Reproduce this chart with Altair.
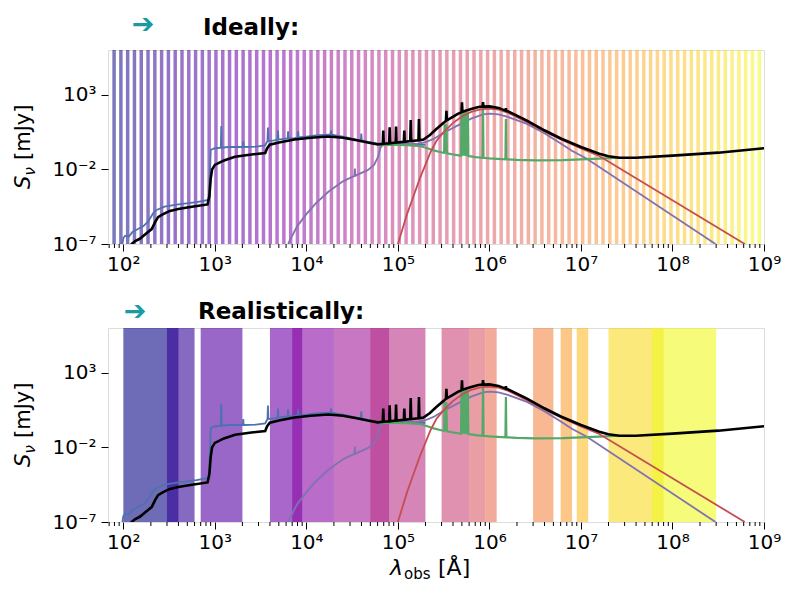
import altair as alt
import pandas as pd

# ---------------- data (log10 wavelength [A], log10 flux [mJy]) ----------------
BLACK = [
    (2.06, -7.6), (2.09, -7.0), (2.13, -6.8), (2.18, -6.65), (2.24, -6.35), (2.31, -6.0), (2.35, -5.5),
    (2.38, -5.2), (2.42, -5.05), (2.50, -4.8), (2.60, -4.65), (2.75, -4.5), (2.92, -4.35), (2.94, -3.8),
    (2.955, -2.6), (2.97, -2.0), (3.00, -1.7), (3.10, -1.4), (3.22, -1.15), (3.40, -1.0), (3.55, -0.9),
    (3.57, -0.6), (3.60, -0.35), (3.70, -0.2), (3.87, 0.0), (4.05, 0.12), (4.24, 0.2), (4.40, 0.12),
    (4.55, -0.05), (4.67, -0.2), (4.78, -0.32),
    (4.835, -0.28), (4.84, 0.6), (4.845, -0.28),
    (4.905, -0.25), (4.91, 0.82), (4.915, -0.25),
    (4.975, -0.2), (4.98, 0.87), (4.985, -0.2),
    (5.065, -0.15), (5.07, 0.6), (5.075, -0.15),
    (5.135, -0.1), (5.14, 1.31), (5.145, -0.1),
    (5.225, -0.05), (5.23, 1.38), (5.235, -0.05),
    (5.28, 0.0), (5.35, 0.3), (5.42, 0.7), (5.50, 1.12),
    (5.525, 1.27), (5.53, 1.93), (5.535, 1.29),
    (5.60, 1.52), (5.65, 1.7),
    (5.695, 1.84), (5.70, 2.49), (5.705, 1.86),
    (5.80, 2.05), (5.88, 2.18),
    (5.925, 2.21), (5.93, 2.5), (5.935, 2.21),
    (6.00, 2.22), (6.10, 2.12),
    (6.175, 1.94), (6.18, 2.1), (6.185, 1.92),
    (6.20, 1.9), (6.30, 1.6), (6.41, 1.27), (6.60, 0.62), (6.78, 0.07), (7.00, -0.5), (7.20, -0.95),
    (7.30, -1.12), (7.42, -1.22), (7.60, -1.22), (8.00, -1.08), (8.50, -0.88), (9.00, -0.58),
]

BLUE = [
    (1.99, -7.0), (2.00, -6.6), (2.02, -6.44), (2.06, -6.5), (2.10, -6.2), (2.16, -6.0), (2.22, -5.8),
    (2.27, -5.5), (2.33, -4.9), (2.37, -4.7), (2.45, -4.5), (2.60, -4.35), (2.80, -4.2), (2.93, -4.05),
    (2.945, -2.5), (2.955, -0.7), (2.99, -0.6),
    (3.065, -0.55), (3.07, 0.9), (3.075, -0.55),
    (3.15, -0.5), (3.305, -0.5), (3.31, -0.1), (3.315, -0.5), (3.45, -0.48), (3.55, -0.4),
    (3.57, -0.15), (3.575, -0.12), (3.58, 0.8), (3.585, -0.1), (3.65, -0.05),
    (3.685, 0.0), (3.69, 0.6), (3.695, 0.0), (3.75, 0.05),
    (3.795, 0.07), (3.80, 0.55), (3.805, 0.08), (3.87, 0.1),
    (3.905, 0.15), (3.91, 0.55), (3.915, 0.15), (4.00, 0.2), (4.10, 0.27), (4.24, 0.33),
    (4.265, 0.33), (4.27, 0.6), (4.275, 0.32), (4.40, 0.2), (4.55, 0.0),
    (4.595, -0.05), (4.60, 0.4), (4.605, -0.06), (4.65, -0.12), (4.80, -0.3), (5.00, -0.3), (5.30, -0.35),
]

PURPLE = [
    (3.80, -7.0), (3.84, -6.5), (3.90, -5.8), (4.00, -5.0), (4.10, -4.3), (4.24, -3.5), (4.40, -2.8),
    (4.50, -2.5), (4.525, -2.45), (4.53, -1.95), (4.535, -2.43), (4.56, -2.35), (4.67, -2.05), (4.74, -1.7),
    (4.78, -1.2), (4.81, -0.55), (4.83, -0.38), (5.00, -0.33), (5.20, -0.3), (5.30, -0.18), (5.39, 0.04),
    (5.50, 0.45), (5.65, 0.93), (5.80, 1.4), (5.93, 1.68), (6.00, 1.73), (6.10, 1.68), (6.20, 1.52),
    (6.41, 1.05), (6.60, 0.42), (6.78, -0.27), (6.90, -0.75), (7.06, -1.27), (8.47, -7.0),
]

RED = [
    (5.00, -7.0), (5.05, -6.0), (5.10, -5.0), (5.17, -3.8), (5.24, -2.6), (5.30, -1.7), (5.36, -0.8),
    (5.42, -0.1), (5.50, 0.5), (5.60, 1.1), (5.70, 1.55), (5.80, 1.85), (5.90, 2.02), (6.00, 2.08),
    (6.10, 2.0), (6.20, 1.8), (6.40, 1.2), (6.60, 0.55), (6.80, -0.05), (7.00, -0.6), (7.20, -1.1),
    (8.79, -7.0),
]

GREEN = [
    (4.80, -0.4), (4.90, -0.35), (5.10, -0.37), (5.25, -0.45), (5.33, -0.6), (5.39, -0.73), (5.45, -0.82),
    (5.505, -0.9), (5.51, 1.0), (5.515, -0.9), (5.52, 1.04), (5.525, -0.9), (5.53, 1.0), (5.535, -0.92),
    (5.65, -1.05), (5.69, -1.08),
    (5.695, 1.85), (5.70, -1.08), (5.705, 1.95), (5.71, -1.08), (5.715, 1.7), (5.72, -1.09),
    (5.725, 1.9), (5.73, -1.09), (5.735, 1.95), (5.74, -1.1), (5.745, 1.75), (5.75, -1.1),
    (5.755, 1.85), (5.76, -1.1), (5.765, 1.7), (5.77, -1.11),
    (5.85, -1.18), (5.925, -1.22), (5.93, 2.16), (5.935, -1.22), (6.00, -1.26),
    (6.175, -1.32), (6.18, 1.38), (6.185, -1.32), (6.30, -1.36), (6.50, -1.4), (6.80, -1.38),
    (7.00, -1.33), (7.20, -1.28), (7.42, -1.22),
]

# "ideal" filter grid: regularly spaced narrow bands (log10 start, step, width, count)
IDEAL_START = 1.88
IDEAL_STEP = 0.0742
IDEAL_WIDTH = 0.038
IDEAL_COUNT = 96

# "realistic" filters (wavelength ranges in Angstrom)
REAL_LO = [100, 300, 700, 4000, 7000, 2e4, 5e4, 3e5, 6e5, 9e5, 3e6, 6e6, 9e6, 2e7, 6e7]
REAL_HI = [400, 600, 2000, 9000, 2e4, 8e4, 2e5, 6e5, 9e5, 1.2e6, 5e6, 8e6, 1.2e7, 8e7, 3e8]

X_TICKS = [1e2, 1e3, 1e4, 1e5, 1e6, 1e7, 1e8, 1e9]
Y_TICKS = [1e-7, 1e-2, 1e3]
X_DOMAIN = [68, 1e9]
Y_DOMAIN = [1e-7, 1e6]

W, H = 656, 194
FONT = "DejaVu Sans"


def line_df(pairs):
    return pd.DataFrame({
        "lam": [10 ** a for a, _ in pairs],
        "S": [10 ** b for _, b in pairs],
        "o": list(range(len(pairs))),
    })


ideal_df = pd.DataFrame({
    "x1": [10 ** (IDEAL_START + i * IDEAL_STEP) for i in range(IDEAL_COUNT)],
    "x2": [10 ** (IDEAL_START + i * IDEAL_STEP + IDEAL_WIDTH) for i in range(IDEAL_COUNT)],
    "c": [i / (IDEAL_COUNT - 1) for i in range(IDEAL_COUNT)],
})
real_df = pd.DataFrame({
    "x1": REAL_LO,
    "x2": REAL_HI,
    "c": [i / (len(REAL_LO) - 1) for i in range(len(REAL_LO))],
})

minor = []
for d in range(1, 9):
    for k in range(2, 10):
        v = k * 10 ** d
        if X_DOMAIN[0] <= v <= X_DOMAIN[1]:
            minor.append(v)
minor_df = pd.DataFrame({"m": minor})

SUP = {"-": "⁻", "0": "⁰", "1": "¹", "2": "²", "3": "³", "4": "⁴",
       "5": "⁵", "6": "⁶", "7": "⁷", "8": "⁸", "9": "⁹"}


def label_expr(exps):
    e = "round(log(datum.value)/LN10)"
    parts = []
    for k in exps:
        s = "10" + "".join(SUP[ch] for ch in str(k))
        parts.append(f"{e} == {k} ? '{s}'")
    return " : ".join(parts) + " : ''"


xscale = alt.Scale(type="log", domain=X_DOMAIN, nice=False)
yscale = alt.Scale(type="log", domain=Y_DOMAIN, nice=False)

xaxis = alt.Axis(values=X_TICKS, labelExpr=label_expr(range(2, 10)), tickSize=7, tickWidth=1,
                 tickColor="black", labelColor="black", labelFontSize=20, labelFont=FONT,
                 domain=False, grid=False, labelPadding=3, labelFlush=False, labelOverlap=False)
yaxis = alt.Axis(values=Y_TICKS, labelExpr=label_expr([-7, -2, 3]), tickSize=7, tickWidth=1,
                 tickColor="black", labelColor="black", labelFontSize=20, labelFont=FONT,
                 domain=False, grid=False, labelPadding=5, labelFlush=False, labelOverlap=False)

one = pd.DataFrame({"k": [0]})


def text(txt, x, y, size, **kw):
    return alt.Chart(one).mark_text(text=txt, fontSize=size, font=FONT, **kw).encode(
        x=alt.value(x), y=alt.value(y))


def panel(bands_df, opacity, arrow_xy, title, title_xy, with_xlabel=False):
    bands = alt.Chart(bands_df).mark_rect(opacity=opacity, strokeWidth=0).encode(
        x=alt.X("x1:Q", scale=xscale, axis=xaxis, title=None),
        x2="x2:Q",
        y=alt.value(0), y2=alt.value(H),
        color=alt.Color("c:Q", scale=alt.Scale(scheme="plasma", domain=[0, 1]), legend=None),
    )
    ticks = alt.Chart(minor_df).mark_rule(color="black", strokeWidth=1).encode(
        x=alt.X("m:Q", scale=xscale, axis=xaxis, title=None),
        y=alt.value(H), y2=alt.value(H + 4),
    )
    layers = [bands, ticks]
    for pairs, col, sw in [(BLUE, "#4C72B0", 1.8), (PURPLE, "#8172B2", 1.8), (GREEN, "#55A868", 2.2),
                           (RED, "#C44E52", 1.8), (BLACK, "#000000", 2.6)]:
        layers.append(alt.Chart(line_df(pairs)).mark_line(color=col, strokeWidth=sw, clip=True).encode(
            x=alt.X("lam:Q", scale=xscale, axis=xaxis, title=None),
            y=alt.Y("S:Q", scale=yscale, axis=yaxis, title=None),
            order="o:Q",
        ))
    # panel heading
    layers.append(text("➔", arrow_xy[0], arrow_xy[1], 27, color="#1a9ba3", align="center",
                       baseline="middle", fontWeight="bold"))
    layers.append(text(title, title_xy[0], title_xy[1], 23, color="black", align="left",
                       baseline="alphabetic", fontWeight="bold"))
    # y axis title  S_nu [mJy]
    layers.append(text("S", -78, 139, 21, angle=270, align="left", baseline="alphabetic",
                       fontStyle="italic", color="black"))
    layers.append(text("ν", -73, 125.5, 15, angle=270, align="left", baseline="alphabetic",
                       fontStyle="italic", color="black"))
    layers.append(text("[mJy]", -78, 110, 21, angle=270, align="left", baseline="alphabetic",
                       color="black"))
    if with_xlabel:
        layers.append(text("λ", 282, 247, 22, align="left", baseline="alphabetic",
                           fontStyle="italic", color="black"))
        layers.append(text("obs", 296, 251, 15, align="left", baseline="alphabetic", color="black"))
        layers.append(text("[Å]", 330, 247, 22, align="left", baseline="alphabetic", color="black"))
    return alt.layer(*layers).properties(width=W, height=H)


top = panel(ideal_df, 0.55, (35, -25), "Ideally:", (95, -15))
bottom = panel(real_df, 0.6, (27, -16), "Realistically:", (90, -9), with_xlabel=True)

chart = alt.vconcat(top, bottom, spacing=84, bounds="flush").properties(
    padding={"left": 4, "top": 2, "right": 0, "bottom": 0}
).configure_view(stroke="black", strokeWidth=1.2).configure(font=FONT)

chart.save("out.html", embed_options={"renderer": "svg", "actions": False})
